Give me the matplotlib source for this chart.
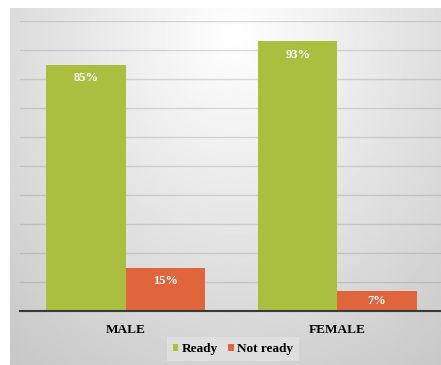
import numpy as np
import matplotlib
matplotlib.use("Agg")
import matplotlib.pyplot as plt

plt.rcParams['font.family'] = ['Liberation Serif', 'DejaVu Serif']

categories = ['MALE', 'FEMALE']
ready = [85, 93]
not_ready = [15, 7]
series_names = ['Ready', 'Not ready']

green = '#aabf3f'
orange = '#e0643c'

W, H = 441, 365
fig = plt.figure(figsize=(W / 100, H / 100), dpi=100)
fig.patch.set_facecolor('white')

# radial grey background panel
bg = fig.add_axes([10 / W, 0, (W - 10) / W, (H - 8) / H])
bg.set_axis_off()
yy, xx = np.mgrid[0:1:300j, 0:1:400j]
r = np.sqrt(((xx - 0.52) / 0.75) ** 2 + ((yy - 0.08) / 1.05) ** 2)
shade = np.clip(1.0 - 0.2 * r, 0.77, 1.0)
bg.imshow(shade, cmap='gray', vmin=0, vmax=1, aspect='auto', extent=[0, 1, 1, 0])

# main bar axes
top, base = 21, 311
ax = fig.add_axes([20 / W, (H - base) / H, (W - 20) / W, (base - top) / H])
ax.patch.set_alpha(0)
x = np.arange(len(categories))
w = 0.375
b1 = ax.bar(x - w / 2, ready, w, color=green, label=series_names[0], zorder=3)
b2 = ax.bar(x + w / 2, not_ready, w, color=orange, label=series_names[1], zorder=3)
ax.set_xlim(-0.5, 1.49)
ax.set_ylim(0, 100)
ax.set_yticks(np.arange(10, 101, 10))
ax.yaxis.grid(True, color='#8c8c8c', alpha=0.3, linewidth=1.0, zorder=0)
ax.tick_params(axis='y', left=False, labelleft=False)
ax.tick_params(axis='x', bottom=False, pad=6)
ax.set_xticks(x)
ax.set_xticklabels(categories, fontsize=9.5, fontweight='bold')
for s in ['top', 'right', 'left']:
    ax.spines[s].set_visible(False)
ax.spines['bottom'].set_color('#3a3a3a')
ax.spines['bottom'].set_linewidth(1.5)
ax.spines['bottom'].set_zorder(4)

# value labels just inside the bar ends, centred on short bars
for bars, vals in [(b1, ready), (b2, not_ready)]:
    for bar, v in zip(bars, vals):
        cx = bar.get_x() + bar.get_width() / 2
        if v < 10:
            ax.text(cx, v / 2, f'{v}%', ha='center', va='center', color='white',
                    fontsize=9, fontweight='bold', zorder=5)
        else:
            ax.annotate(f'{v}%', (cx, v), xytext=(0, -10), textcoords='offset points',
                        ha='center', va='center', color='white',
                        fontsize=9, fontweight='bold', zorder=5)

leg = ax.legend(loc='center', bbox_to_anchor=(0.506, -0.131),
                ncol=2, frameon=True, fancybox=False,
                prop={'weight': 'bold', 'size': 9.5},
                handlelength=0.4, handleheight=0.4, handletextpad=0.25,
                columnspacing=0.8, borderpad=0.45, borderaxespad=0)
leg.get_frame().set_facecolor('#e2e2e2')
leg.get_frame().set_edgecolor('none')
leg.get_frame().set_alpha(0.8)

fig.savefig('out.png', dpi=100)
